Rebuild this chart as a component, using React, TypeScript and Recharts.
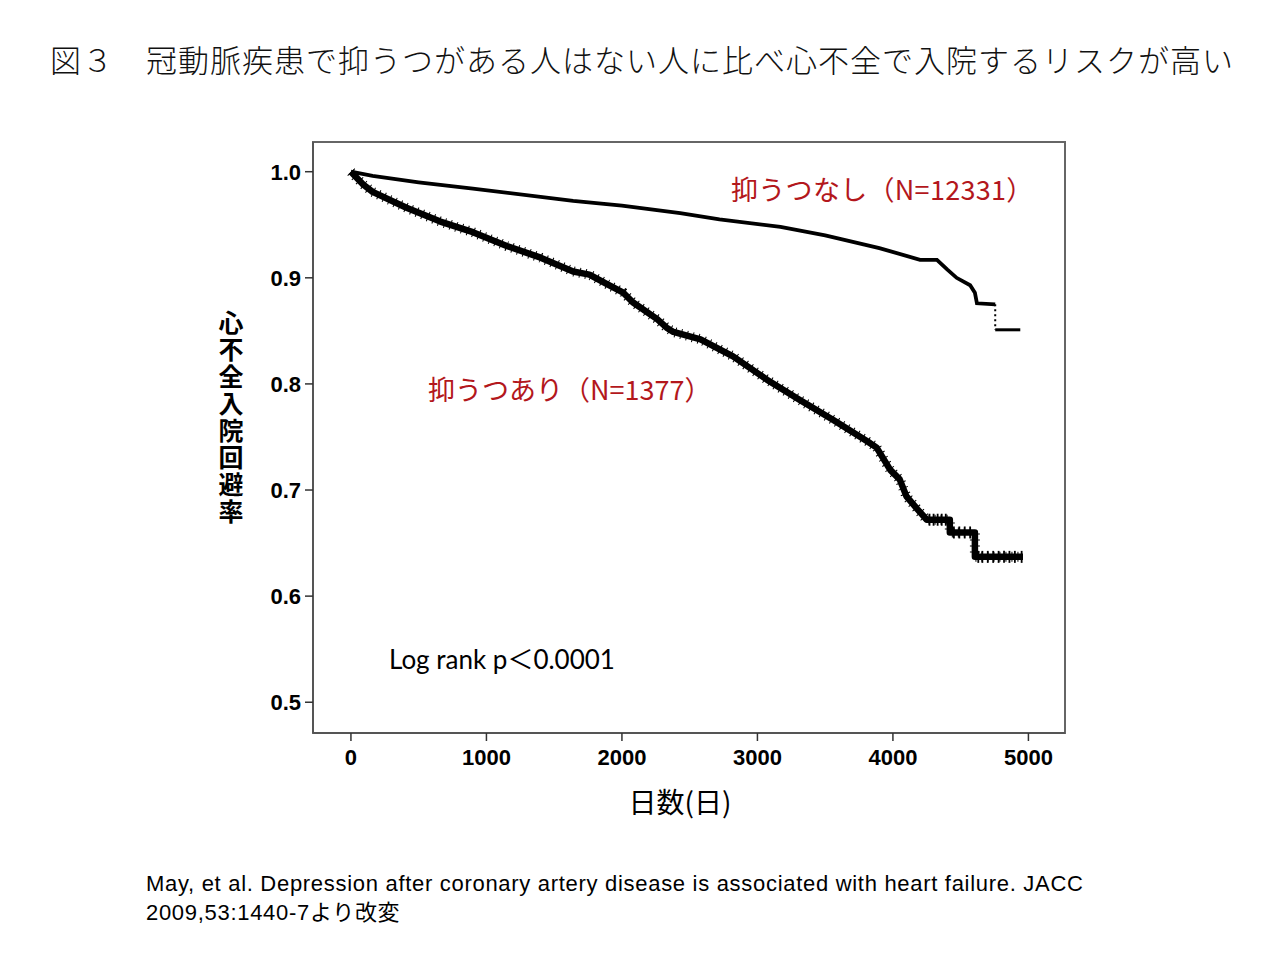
import React from "react";
import {
  ComposedChart,
  Line,
  Scatter,
  XAxis,
  YAxis,
  ReferenceArea,
} from "recharts";

// Kaplan–Meier style curves: days vs. heart-failure-hospitalisation-free rate
const noDepression = [
  { day: 0, s: 1.0 },
  { day: 160, s: 0.996 },
  { day: 500, s: 0.99 },
  { day: 900, s: 0.984 },
  { day: 1640, s: 0.9725 },
  { day: 2000, s: 0.968 },
  { day: 2430, s: 0.961 },
  { day: 2720, s: 0.955 },
  { day: 3170, s: 0.948 },
  { day: 3500, s: 0.94 },
  { day: 3900, s: 0.928 },
  { day: 4200, s: 0.917 },
  { day: 4325, s: 0.917 },
  { day: 4400, s: 0.908 },
  { day: 4470, s: 0.9 },
  { day: 4570, s: 0.893 },
  { day: 4605, s: 0.886 },
  { day: 4620, s: 0.876 },
  { day: 4755, s: 0.875 },
];
const noDepressionDrop = [
  { day: 4755, s: 0.875 },
  { day: 4755, s: 0.851 },
];
const noDepressionTail = [
  { day: 4755, s: 0.851 },
  { day: 4940, s: 0.851 },
];

const depression = [
  { day: 0, s: 1.0 },
  { day: 90, s: 0.988 },
  { day: 160, s: 0.981 },
  { day: 410, s: 0.966 },
  { day: 660, s: 0.953 },
  { day: 780, s: 0.948 },
  { day: 900, s: 0.943 },
  { day: 1150, s: 0.93 },
  { day: 1400, s: 0.919 },
  { day: 1640, s: 0.906 },
  { day: 1760, s: 0.903 },
  { day: 1890, s: 0.894 },
  { day: 2010, s: 0.886 },
  { day: 2080, s: 0.877 },
  { day: 2260, s: 0.861 },
  { day: 2330, s: 0.853 },
  { day: 2380, s: 0.849 },
  { day: 2580, s: 0.842 },
  { day: 2820, s: 0.826 },
  { day: 3070, s: 0.804 },
  { day: 3310, s: 0.785 },
  { day: 3560, s: 0.766 },
  { day: 3810, s: 0.746 },
  { day: 3880, s: 0.74 },
  { day: 3980, s: 0.719 },
  { day: 4050, s: 0.71 },
  { day: 4100, s: 0.694 },
  { day: 4180, s: 0.682 },
  { day: 4250, s: 0.672 },
  { day: 4420, s: 0.672 },
  { day: 4420, s: 0.66 },
  { day: 4605, s: 0.66 },
  { day: 4605, s: 0.637 },
  { day: 4960, s: 0.637 },
];

// censored observations on the late plateaus of the depression curve
const depressionCensored = [
  { day: 4270, s: 0.672 },
  { day: 4300, s: 0.672 },
  { day: 4330, s: 0.672 },
  { day: 4360, s: 0.672 },
  { day: 4390, s: 0.672 },
  { day: 4450, s: 0.66 },
  { day: 4490, s: 0.66 },
  { day: 4530, s: 0.66 },
  { day: 4570, s: 0.66 },
  { day: 4630, s: 0.637 },
  { day: 4660, s: 0.637 },
  { day: 4700, s: 0.637 },
  { day: 4740, s: 0.637 },
  { day: 4780, s: 0.637 },
  { day: 4820, s: 0.637 },
  { day: 4860, s: 0.637 },
  { day: 4900, s: 0.637 },
  { day: 4950, s: 0.637 },
];

const xTicks = [0, 1000, 2000, 3000, 4000, 5000];
const yTicks = [0.5, 0.6, 0.7, 0.8, 0.9, 1.0];
const xDomain = [-280, 5270];
const yDomain = [0.471, 1.028];

const title = "図３　冠動脈疾患で抑うつがある人はない人に比べ心不全で入院するリスクが高い";
const yLabel = "心不全入院回避率";
const xLabel = "日数(日)";
const labelNoDep = "抑うつなし（N=12331）";
const labelDep = "抑うつあり（N=1377）";
const statText = "Log rank p＜0.0001";
const source1 =
  "May, et al. Depression after coronary artery disease is associated with heart failure. JACC";
const source2 = "2009,53:1440-7より改変";

const CJK = '"Noto Sans CJK JP", "Noto Sans", sans-serif';
const RED = "#b3171c";

const CensorMark = (props: any) => {
  const { cx, cy } = props;
  if (cx == null || cy == null) return null;
  return (
    <line x1={cx} x2={cx} y1={cy - 6} y2={cy + 6} stroke="#000" strokeWidth={1.8} />
  );
};

const tickStyle = {
  fontFamily: '"Liberation Sans", Arial, sans-serif',
  fontWeight: 700,
  fontSize: 22,
  fill: "#000",
};

export default function App() {
  return (
    <div
      style={{
        position: "absolute",
        left: 0,
        top: 0,
        width: 1280,
        height: 960,
        background: "#fff",
        overflow: "hidden",
      }}
    >
      <ComposedChart
        width={1280}
        height={960}
        margin={{ top: 142, right: 215, bottom: 187, left: 253 }}
      >
        <XAxis
          dataKey="day"
          type="number"
          domain={xDomain}
          ticks={xTicks}
          allowDuplicatedCategory={false}
          height={40}
          tickSize={8}
          tickMargin={8}
          axisLine={{ stroke: "#555", strokeWidth: 2 }}
          tickLine={{ stroke: "#333", strokeWidth: 1.5 }}
          tick={tickStyle}
        />
        <YAxis
          type="number"
          domain={yDomain}
          ticks={yTicks}
          width={60}
          tickSize={8}
          tickMargin={4}
          allowDataOverflow
          tickFormatter={(v: number) => v.toFixed(1)}
          axisLine={{ stroke: "#555", strokeWidth: 2 }}
          tickLine={{ stroke: "#333", strokeWidth: 1.5 }}
          tick={tickStyle}
        />
        <ReferenceArea
          x1={xDomain[0]}
          x2={xDomain[1]}
          y1={yDomain[0]}
          y2={yDomain[1]}
          fill="none"
          stroke="#666"
          strokeWidth={2}
          ifOverflow="visible"
        />
        <Line
          data={noDepression}
          dataKey="s"
          type="linear"
          stroke="#000"
          strokeWidth={3.8}
          dot={false}
          isAnimationActive={false}
        />
        <Line
          data={noDepressionDrop}
          dataKey="s"
          type="linear"
          stroke="#000"
          strokeWidth={2}
          strokeDasharray="2 3"
          dot={false}
          isAnimationActive={false}
        />
        <Line
          data={noDepressionTail}
          dataKey="s"
          type="linear"
          stroke="#000"
          strokeWidth={3}
          dot={false}
          isAnimationActive={false}
        />
        <Line
          data={depression}
          dataKey="s"
          type="linear"
          stroke="#000"
          strokeWidth={6.5}
          strokeLinejoin="round"
          dot={false}
          isAnimationActive={false}
        />
        <Line
          data={depression}
          dataKey="s"
          type="linear"
          stroke="#000"
          strokeWidth={10}
          strokeDasharray="1 5"
          dot={false}
          isAnimationActive={false}
        />
        <Scatter
          data={depressionCensored}
          dataKey="s"
          shape={<CensorMark />}
          isAnimationActive={false}
        />
      </ComposedChart>

      {/* title */}
      <div
        style={{
          position: "absolute",
          left: 50,
          top: 39,
          fontFamily: CJK,
          fontWeight: 300,
          fontSize: 31,
          letterSpacing: 1,
          lineHeight: "40px",
          whiteSpace: "nowrap",
          color: "#111",
        }}
      >
        {title}
      </div>

      {/* y-axis title, vertical */}
      <div
        style={{
          position: "absolute",
          left: 216,
          top: 310,
          writingMode: "vertical-rl",
          fontFamily: CJK,
          fontWeight: 700,
          fontSize: 25,
          lineHeight: "30px",
          letterSpacing: 2,
          color: "#000",
        }}
      >
        {yLabel}
      </div>

      {/* x-axis title */}
      <div
        style={{
          position: "absolute",
          left: 580,
          width: 200,
          top: 783,
          textAlign: "center",
          fontFamily: CJK,
          fontSize: 28,
          lineHeight: "36px",
          color: "#000",
        }}
      >
        {xLabel}
      </div>

      {/* series labels */}
      <div
        style={{
          position: "absolute",
          left: 731,
          top: 171,
          fontFamily: CJK,
          fontSize: 27,
          letterSpacing: 0.3,
          lineHeight: "36px",
          whiteSpace: "nowrap",
          color: RED,
        }}
      >
        {labelNoDep}
      </div>
      <div
        style={{
          position: "absolute",
          left: 428,
          top: 371,
          fontFamily: CJK,
          fontSize: 27,
          lineHeight: "36px",
          whiteSpace: "nowrap",
          color: RED,
        }}
      >
        {labelDep}
      </div>

      {/* statistics */}
      <div
        style={{
          position: "absolute",
          left: 389,
          top: 641,
          fontFamily: 'Lato, "Noto Sans CJK JP", sans-serif',
          fontSize: 26,
          lineHeight: "36px",
          whiteSpace: "nowrap",
          color: "#000",
        }}
      >
        {statText}
      </div>

      {/* source */}
      <div
        style={{
          position: "absolute",
          left: 146,
          top: 869,
          fontFamily: '"Liberation Sans", "Noto Sans CJK JP", sans-serif',
          fontSize: 22,
          letterSpacing: 0.7,
          lineHeight: "29px",
          whiteSpace: "nowrap",
          color: "#000",
        }}
      >
        <div>{source1}</div>
        <div>{source2}</div>
      </div>
    </div>
  );
}
